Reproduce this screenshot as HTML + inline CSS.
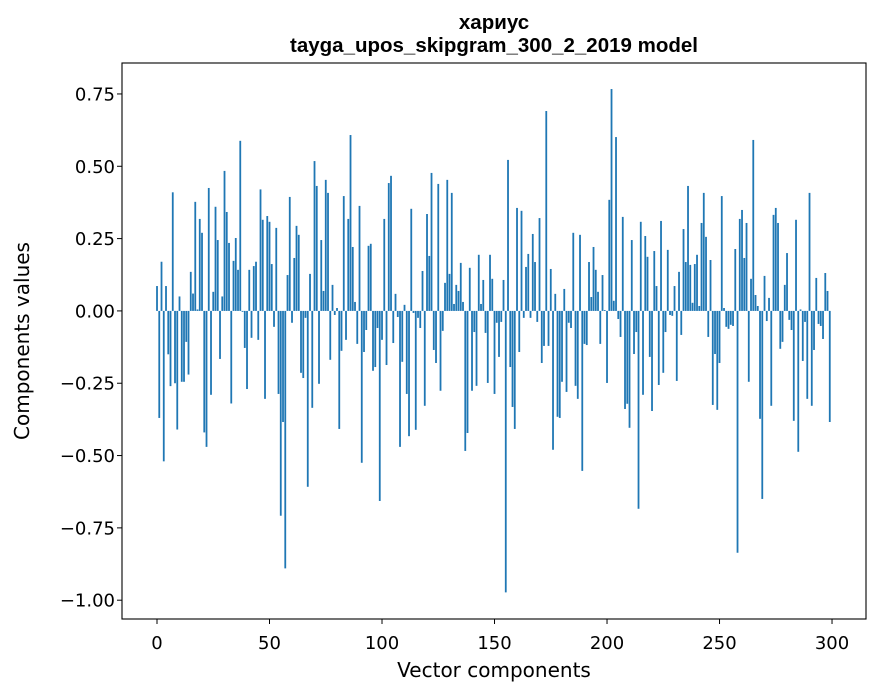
<!DOCTYPE html>
<html><head><meta charset="utf-8"><style>
body{margin:0;background:#fff;}
svg{display:block;font-family:"DejaVu Sans","Liberation Sans",sans-serif;}
</style></head><body>
<svg id="chart" width="880" height="696">
<rect width="880" height="696" fill="#fff"/>
<text x="494" y="29" text-anchor="middle" font-size="20.5" font-weight="bold" font-family="Liberation Sans, sans-serif">хариус</text>
<text x="494" y="52" text-anchor="middle" font-size="20.5" font-weight="bold" font-family="Liberation Sans, sans-serif">tayga_upos_skipgram_300_2_2019 model</text>
<g id="bars"></g>
<g id="axes"></g>
<text x="494" y="677" text-anchor="middle" font-size="20">Vector components</text>
<text transform="translate(29,341) rotate(-90)" text-anchor="middle" font-size="20">Components values</text>
</svg>
<script>
const values = [0.086,-0.37,0.17,-0.52,0.086,-0.15,-0.26,0.41,-0.25,-0.41,
0.05,-0.245,-0.245,-0.107,-0.22,0.135,0.06,0.377,0.005,0.318,
0.27,-0.42,-0.47,0.425,-0.29,0.066,0.36,0.245,-0.166,0.05,
0.484,0.342,0.235,-0.32,0.173,0.252,0.142,0.588,-0.003,-0.128,
-0.27,0.142,-0.093,0.155,0.17,-0.1,0.42,0.315,-0.304,0.328,
0.308,0.162,-0.055,0.287,-0.287,-0.708,-0.384,-0.89,0.124,0.394,
-0.041,0.183,0.294,0.263,-0.214,-0.232,-0.024,-0.608,0.128,-0.335,
0.518,0.432,-0.252,0.245,0.069,0.453,0.408,-0.169,0.09,-0.014,
0.01,-0.408,-0.138,0.397,-0.1,0.318,0.608,0.221,0.031,-0.114,
0.363,-0.525,-0.142,-0.066,0.225,0.232,-0.207,-0.194,-0.059,-0.657,
-0.1,0.318,-0.187,0.442,0.467,-0.111,0.059,-0.021,-0.47,-0.176,
0.021,-0.287,-0.433,0.353,-0.007,-0.411,-0.024,-0.059,0.138,-0.328,
0.335,0.19,0.477,-0.135,-0.18,0.439,-0.276,-0.069,0.097,0.453,
0.128,0.408,0.024,0.09,0.069,0.166,0.031,-0.484,-0.422,0.149,
-0.276,-0.073,-0.259,0.194,0.024,0.107,-0.076,-0.249,0.194,0.111,
-0.287,-0.041,-0.159,-0.038,0.107,-0.973,0.522,-0.194,-0.332,-0.408,
0.356,-0.142,0.346,-0.024,0.152,0.197,-0.024,0.266,0.169,-0.038,
0.321,-0.18,-0.121,0.691,-0.121,0.145,-0.48,0.059,-0.366,-0.37,
-0.245,0.076,-0.28,-0.041,-0.059,0.27,-0.259,-0.304,0.263,-0.553,
-0.114,-0.118,0.169,0.048,0.221,0.142,0.066,-0.114,0.124,0.003,
-0.249,0.384,0.767,0.035,0.601,-0.028,-0.09,0.325,-0.339,-0.321,
-0.404,0.245,-0.149,-0.073,-0.684,0.308,-0.29,0.259,0.187,-0.159,
-0.346,0.207,0.086,-0.256,0.311,-0.214,-0.073,0.211,-0.014,-0.017,
0.086,-0.242,0.135,-0.083,0.283,0.169,0.432,0.159,0.028,0.162,
0.194,0.017,0.304,0.408,0.256,-0.09,0.176,-0.325,-0.149,-0.342,
-0.18,0.397,0.01,-0.055,-0.062,-0.048,-0.052,0.214,-0.836,0.318,
0.349,0.183,0.304,-0.245,0.111,0.591,0.055,0.017,-0.373,-0.65,
0.121,-0.035,0.045,-0.328,0.332,0.356,0.304,-0.131,-0.107,0.09,
0.2,-0.031,-0.066,-0.38,0.315,-0.487,0.005,-0.173,-0.038,-0.304,
0.408,-0.328,-0.135,0.114,-0.045,-0.052,-0.097,0.131,0.069,-0.384];
const xTicks = [0,50,100,150,200,250,300];
const yTicks = [0.75,0.5,0.25,0,-0.25,-0.5,-0.75,-1.0];
const yTickLabels = ["0.75","0.50","0.25","0.00","\u22120.25","\u22120.50","\u22120.75","\u22121.00"];

const L=122,R=866,T=63,B=619;
const xMin=-15.56,xMax=315.1,yMin=-1.065,yMax=0.857;
const xs=v=>L+(v-xMin)/(xMax-xMin)*(R-L);
const ys=v=>B-(v-yMin)/(yMax-yMin)*(B-T);
const NS="http://www.w3.org/2000/svg";
const bars=document.getElementById('bars');
const bw=(xs(0.8)-xs(0));
values.forEach((v,i)=>{
  const r=document.createElementNS(NS,'rect');
  const y0=ys(0),y1=ys(v);
  r.setAttribute('x',xs(i)-bw/2);
  r.setAttribute('y',Math.min(y0,y1));
  r.setAttribute('width',bw);
  r.setAttribute('height',Math.abs(y1-y0));
  r.setAttribute('fill','#1f77b4');
  
  
  bars.appendChild(r);
});
const ax=document.getElementById('axes');
const frame=document.createElementNS(NS,'rect');
frame.setAttribute('x',L);frame.setAttribute('y',T);
frame.setAttribute('width',R-L);frame.setAttribute('height',B-T);
frame.setAttribute('fill','none');frame.setAttribute('stroke','#000');frame.setAttribute('stroke-width','1.1');


ax.appendChild(frame);
xTicks.forEach(t=>{
  const x=xs(t);
  const l=document.createElementNS(NS,'line');
  l.setAttribute('x1',x);l.setAttribute('x2',x);l.setAttribute('y1',B);l.setAttribute('y2',B+5);
  l.setAttribute('stroke','#000');
  
  
  ax.appendChild(l);
  const tx=document.createElementNS(NS,'text');
  tx.setAttribute('x',x);tx.setAttribute('y',B+30);tx.setAttribute('text-anchor','middle');tx.setAttribute('font-size','18');
  tx.textContent=String(t);
  
  
  ax.appendChild(tx);
});
yTicks.forEach((t,k)=>{
  const y=ys(t);
  const l=document.createElementNS(NS,'line');
  l.setAttribute('x1',L-5);l.setAttribute('x2',L);l.setAttribute('y1',y);l.setAttribute('y2',y);
  l.setAttribute('stroke','#000');
  
  
  ax.appendChild(l);
  const tx=document.createElementNS(NS,'text');
  tx.setAttribute('x',L-7);tx.setAttribute('y',y+6.5);tx.setAttribute('text-anchor','end');tx.setAttribute('font-size','18');
  tx.textContent=yTickLabels[k];
  
  
  ax.appendChild(tx);
});
</script>
</body></html>
